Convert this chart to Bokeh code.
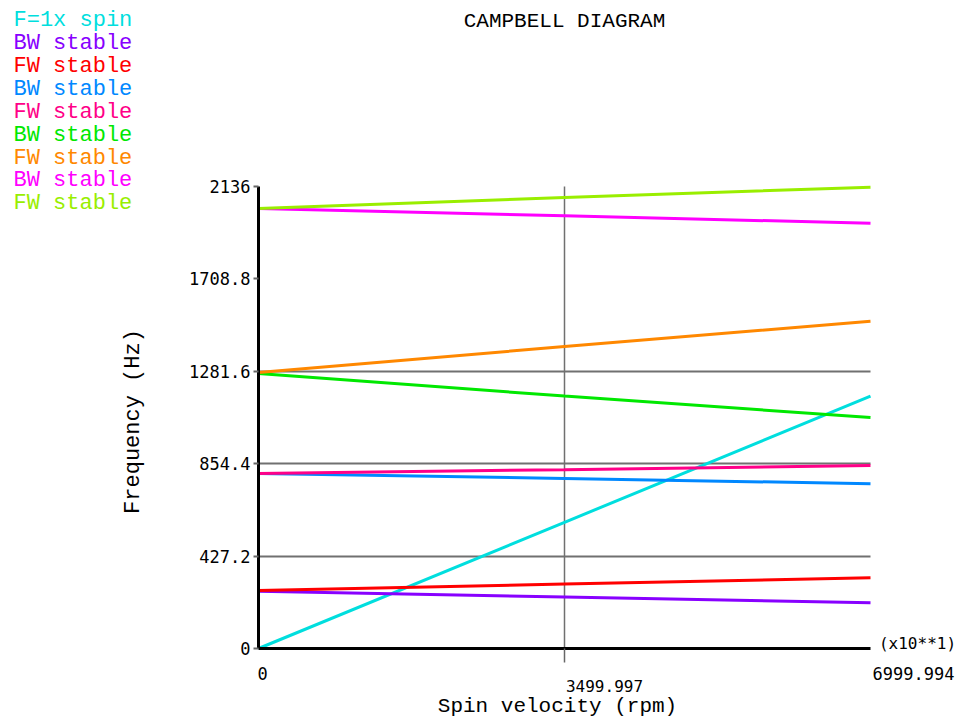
from bokeh.plotting import figure
from bokeh.models import FixedTicker, Label
from bokeh.embed import file_html
from bokeh.resources import INLINE

# ---- data ----
spin = [0, 3499.997, 6999.994]  # spin velocity, x10 rpm
series_names = ["F=1x spin", "BW stable", "FW stable", "BW stable", "FW stable",
                "BW stable", "FW stable", "BW stable", "FW stable"]
series_colors = ["#00dede", "#8800ff", "#ff0000", "#0088ff", "#ff0088",
                 "#00e800", "#ff8800", "#ff00ff", "#99ee00"]
f_spin = [0, 583.3, 1166.7]
bw1 = [265, 238, 211]
fw1 = [268, 298, 327]
bw2 = [809, 786, 762]
fw2 = [809, 827, 846]
bw3 = [1271, 1167, 1068]
fw3 = [1276, 1396, 1513]
bw4 = [2034, 2001, 1966]
fw4 = [2034, 2085, 2133]
series_vals = [f_spin, bw1, fw1, bw2, fw2, bw3, fw3, bw4, fw4]

y_ticks = [0, 427.2, 854.4, 1281.6, 1708.8, 2136]
y_tick_labels = ["0", "427.2", "854.4", "1281.6", "1708.8", "2136"]
y_grid_ticks = [427.2, 854.4, 1281.6]
x_ticks = [0, 3499.997, 6999.994]
x_tick_labels = ["0", "3499.997", "6999.994"]

XMAX = 6999.994
YMAX = 2136

# plot box in picture pixels
PL, PR, PT, PB = 258, 870, 186, 648
W, H = 960, 718


def dx(px):
    return (px - PL) / (PR - PL) * XMAX


def dy(py):
    return (PB - py) / (PB - PT) * YMAX


p = figure(width=W, height=H, output_backend="svg", toolbar_location=None,
           x_range=(dx(0), dx(W)), y_range=(dy(H), dy(0)),
           min_border=0, min_border_left=0, min_border_right=0,
           min_border_top=0, min_border_bottom=0)
p.outline_line_color = None
p.background_fill_color = "white"
p.border_fill_color = "white"

# axes drawn at the data origin
yax = p.yaxis[0]
yax.fixed_location = 0
yax.bounds = (0, YMAX)
yax.ticker = FixedTicker(ticks=y_ticks)
yax.major_label_overrides = {t: s for t, s in zip(y_ticks, y_tick_labels)}
yax.axis_line_width = 3
yax.axis_line_color = "black"
yax.major_tick_out = 5
yax.major_tick_in = 0
yax.major_tick_line_color = "#666666"
yax.major_tick_line_width = 2
yax.minor_tick_line_color = None
yax.major_label_text_font = "DejaVu Sans Mono"
yax.major_label_text_font_size = "17px"
yax.major_label_text_color = "black"
yax.major_label_standoff = 3

xax = p.xaxis[0]
xax.fixed_location = 0
xax.bounds = (0, XMAX)
xax.ticker = FixedTicker(ticks=[x_ticks[1]])
xax.major_label_overrides = {x_ticks[1]: ""}
xax.axis_line_width = 3
xax.axis_line_color = "black"
xax.major_tick_out = 14
xax.major_tick_in = 0
xax.major_tick_line_color = "#666666"
xax.major_tick_line_width = 1.5
xax.minor_tick_line_color = None

yg = p.ygrid[0]
xg = p.xgrid[0]
yg.ticker = FixedTicker(ticks=y_grid_ticks)
yg.grid_line_color = "#707070"
yg.grid_line_width = 2
xg.ticker = FixedTicker(ticks=[x_ticks[1]])
xg.grid_line_color = "#707070"
xg.grid_line_width = 1.5
try:
    yg.cross_bounds = (0, XMAX)
    xg.cross_bounds = (0, YMAX)
except Exception:
    yg.visible = False
    xg.visible = False
    p.segment(x0=[0] * len(y_grid_ticks), y0=y_grid_ticks, x1=[XMAX] * len(y_grid_ticks),
              y1=y_grid_ticks, line_color="#707070", line_width=2)
    p.segment(x0=[x_ticks[1]], y0=[0], x1=[x_ticks[1]], y1=[YMAX],
              line_color="#707070", line_width=1.5)

for vals, col in zip(series_vals, series_colors):
    p.line(spin, vals, line_color=col, line_width=3)

MONO = "Liberation Mono"


def add_text(text, px, py, size, color="black", align="center", angle=0, font=MONO):
    p.add_layout(Label(x=dx(px), y=dy(py), text=text, text_font=font,
                       text_font_size=size, text_color=color, text_align=align,
                       text_baseline="middle", angle=angle))


add_text("CAMPBELL DIAGRAM", 564, 21, "21px")

legend_y = [20, 43, 66, 89, 112, 135, 158, 180, 203]
for name, col, ly in zip(series_names, series_colors, legend_y):
    add_text(name, 13, ly, "22px", color=col, align="left")

add_text("Frequency (Hz)", 133, 421, "22px", angle=1.5708)
add_text("Spin velocity (rpm)", 557, 706, "21px")
add_text(x_tick_labels[0], 262, 673, "17px", font="DejaVu Sans Mono")
add_text(x_tick_labels[1], 604, 685, "16px", font="DejaVu Sans Mono")
add_text(x_tick_labels[2], 913, 673, "17px", font="DejaVu Sans Mono")
add_text("(x10**1)", 917, 643, "16px", font="DejaVu Sans Mono")

open("out.html", "w").write(file_html(p, INLINE))
